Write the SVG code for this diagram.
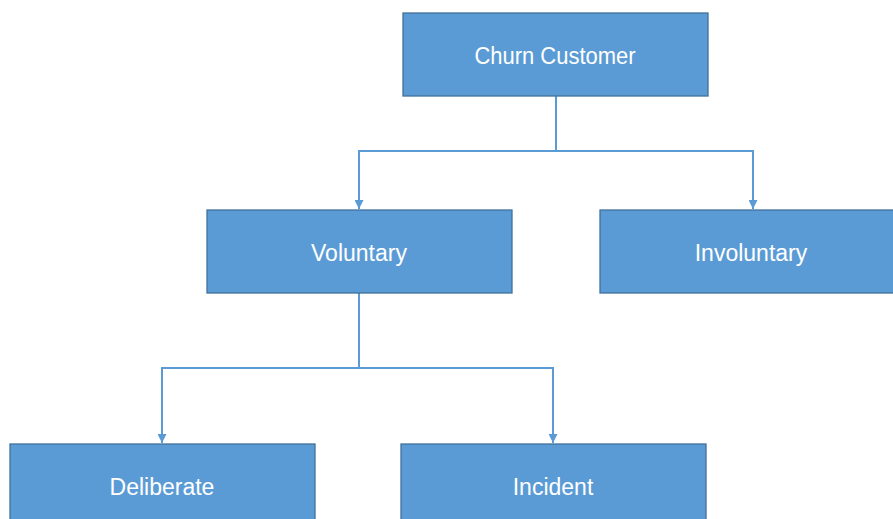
<svg xmlns="http://www.w3.org/2000/svg" width="893" height="519" viewBox="0 0 893 519">
<style>
.box{fill:#5B9BD5;stroke:#41719C;stroke-width:1.3}
.lbl{fill:#FFFFFF;font-family:"Liberation Sans",Arial,sans-serif;font-size:23px;text-anchor:middle}
.conn{fill:none;stroke:#5B9BD5;stroke-width:2}
</style>
<defs>
<marker id="arr" viewBox="0 0 10 10" refX="10" refY="5" markerWidth="5" markerHeight="4.5" markerUnits="strokeWidth" orient="auto">
<path d="M0,0 L10,5 L0,10 Z" fill="#5B9BD5"/>
</marker>
</defs>
<g id="connectors">
<path class="conn" d="M556,96 V151 H359 V209" marker-end="url(#arr)"/>
<path class="conn" d="M556,151 H753 V209" marker-end="url(#arr)"/>
<path class="conn" d="M359,293 V368 H162 V443" marker-end="url(#arr)"/>
<path class="conn" d="M359,368 H553 V443" marker-end="url(#arr)"/>
</g>
<g id="churn">
<rect class="box" x="403" y="13" width="305" height="83"/>
<text class="lbl" x="555" y="64" textLength="161" lengthAdjust="spacingAndGlyphs">Churn Customer</text>
</g>
<g id="voluntary">
<rect class="box" x="207" y="210" width="305" height="83"/>
<text class="lbl" x="359" y="261">Voluntary</text>
</g>
<g id="involuntary">
<rect class="box" x="600" y="210" width="305" height="83"/>
<text class="lbl" x="751" y="261">Involuntary</text>
</g>
<g id="deliberate">
<rect class="box" x="10" y="444" width="305" height="83"/>
<text class="lbl" x="162" y="495">Deliberate</text>
</g>
<g id="incident">
<rect class="box" x="401" y="444" width="305" height="83"/>
<text class="lbl" x="553" y="495">Incident</text>
</g>
</svg>
